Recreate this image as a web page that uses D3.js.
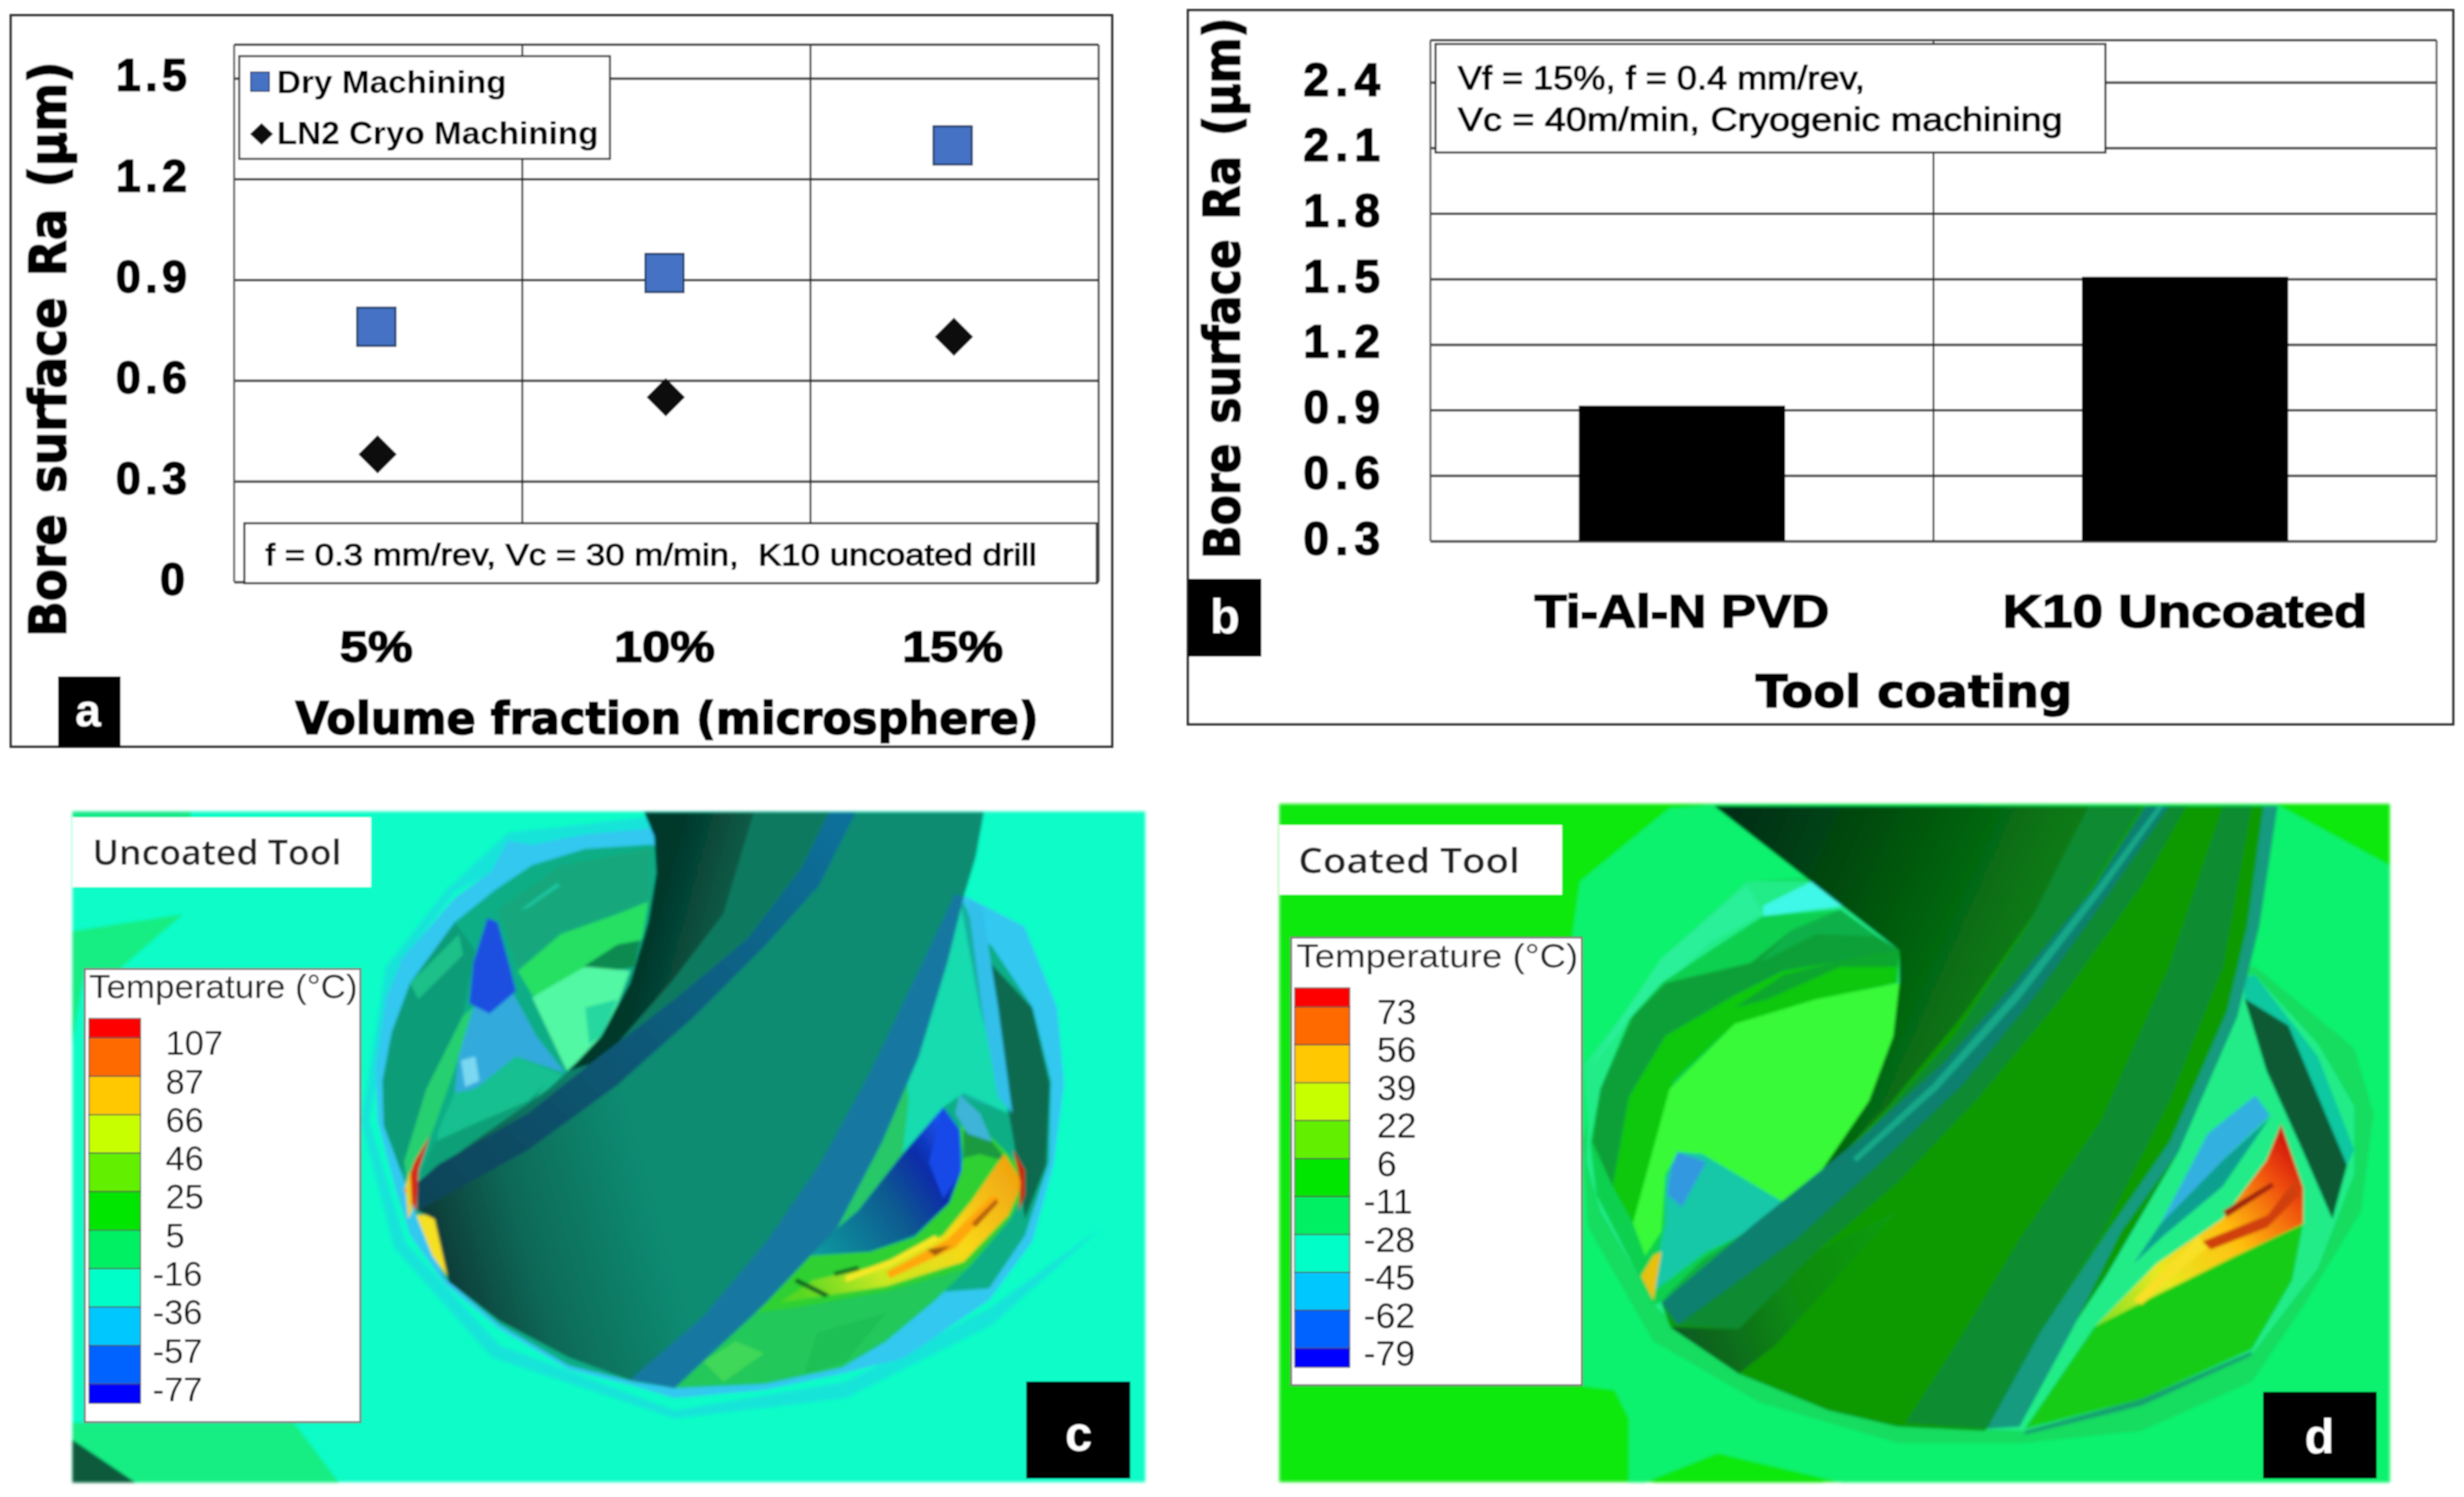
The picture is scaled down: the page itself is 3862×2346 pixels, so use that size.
<!DOCTYPE html>
<html><head><meta charset="utf-8">
<script src="https://cdnjs.cloudflare.com/ajax/libs/d3/7.8.5/d3.min.js"></script>
<style>html,body{margin:0;padding:0;background:#fff}svg{display:block}</style></head>
<body><svg id="c" width="3862" height="2346" xmlns="http://www.w3.org/2000/svg"></svg>
<script>
// ---- chart data
const fractions = ["5%","10%","15%"];
const dryRa = [0.76,0.92,1.30];
const cryoRa = [0.38,0.55,0.73];
const ticksA = [0,0.3,0.6,0.9,1.2,1.5];
const coatings = ["Ti-Al-N PVD","K10 Uncoated"];
const coatingRa = [0.92,1.51];
const ticksB = [0.3,0.6,0.9,1.2,1.5,1.8,2.1,2.4];
const tempColors = ["#ff0000","#ff6a00","#ffc800","#c8ff00","#64f000","#00e600","#00f064","#00ffc8","#00c8ff","#0064ff","#0000ff"];
const tempUncoated = [107,87,66,46,25,5,-16,-36,-57,-77];
const tempCoated = [73,56,39,22,6,-11,-28,-45,-62,-79];

const ARIAL="'Liberation Sans',Arial,sans-serif", VERD="'DejaVu Sans',Verdana,sans-serif", OPEN="'Open Sans',sans-serif";
const svg=d3.select("#c");
const defs=svg.append("defs");
const blur=(id,s)=>defs.append("filter").attr("id",id).attr("x","-2%").attr("y","-2%").attr("width","104%").attr("height","104%")
  .append("feGaussianBlur").attr("stdDeviation",s);
blur("soft",1.1); blur("softer",2.2);
function grad(id,x1,y1,x2,y2,stops){
  const g=defs.append("linearGradient").attr("id",id).attr("gradientUnits","userSpaceOnUse")
   .attr("x1",x1).attr("y1",y1).attr("x2",x2).attr("y2",y2);
  stops.forEach(([o,c])=>g.append("stop").attr("offset",o).attr("stop-color",c));
}
function T(g,str,x,y,o={}){
  const t=g.append("text").text(str).attr("x",x).attr("y",y)
    .attr("font-family",o.family||ARIAL).attr("font-size",o.size||40).attr("font-weight",o.weight||400)
    .attr("fill",o.fill||"#000").attr("text-anchor",o.anchor||"start");
  if(o.ws) t.attr("word-spacing",o.ws);
  if(o.width) t.attr("textLength",o.width).attr("lengthAdjust","spacingAndGlyphs");
  if(o.stroke) t.attr("stroke",o.fill||"#000").attr("stroke-width",o.stroke);
  if(o.fit){ // rotated title stretched to a given length
    const k=o.fit/t.node().getComputedTextLength();
    t.attr("transform",`translate(${x},${y}) rotate(-90) scale(${k},1) translate(${-x},${-y})`);
  }
  return t;
}
function box(g,x0,y0,x1,y1,o={}){
  return g.append("rect").attr("x",x0).attr("y",y0).attr("width",x1-x0).attr("height",y1-y0)
   .attr("fill",o.fill||"#fff").attr("stroke",o.stroke||"none").attr("stroke-width",o.sw||0);
}
function styleAxis(ax,o){
  ax.select(".domain").remove();
  ax.selectAll("line").attr("stroke",o.line||"#444").attr("stroke-width",o.lw||4);
  ax.selectAll("text").attr("font-family",ARIAL).attr("font-weight",700).attr("font-size",o.size).attr("fill","#000")
    .attr("stroke","#000").attr("stroke-width",o.stroke||2.5);
}

// ============= panel a
{
 const g=svg.append("g").attr("filter","url(#soft)");
 box(g,17,24,1743,1170,{stroke:"#333",sw:4});
 const L=367,R=1722,Tp=70,B=912;
 const y=d3.scaleLinear().domain([0,1.6]).range([B,Tp]);
 const x=d3.scaleBand().domain(fractions).range([L,R]);
 const ay=g.append("g").attr("transform",`translate(${L},0)`)
   .call(d3.axisLeft(y).tickValues(ticksA).tickFormat(d=>d===0?"0":d3.format(".1f")(d)).tickSize(-(R-L)).tickPadding(67));
 styleAxis(ay,{size:70});
 ay.selectAll("text").attr("letter-spacing",7).attr("dy",19);
 ay.selectAll("text").filter(d=>d===0).attr("letter-spacing",0).attr("dx",-10);
 g.append("g").selectAll("line").data(fractions).join("line")
  .attr("x1",d=>x(d)+x.bandwidth()).attr("x2",d=>x(d)+x.bandwidth()).attr("y1",Tp).attr("y2",B).attr("stroke","#333").attr("stroke-width",3);
 g.append("line").attr("x1",L).attr("x2",L).attr("y1",Tp).attr("y2",B).attr("stroke","#555").attr("stroke-width",3);
 g.append("line").attr("x1",L).attr("x2",R).attr("y1",Tp).attr("y2",Tp).attr("stroke","#444").attr("stroke-width",4);
 const ax=g.append("g").attr("transform",`translate(0,${B})`).call(d3.axisBottom(x).tickSize(0).tickPadding(0));
 styleAxis(ax,{size:68});
 ax.selectAll("text").attr("y",125).attr("dy",0).attr("dx",-3).attr("textLength",function(){return this.getComputedTextLength()*1.16;}).attr("lengthAdjust","spacingAndGlyphs");
 const mx=d=>x(d)+x.bandwidth()/2-3;
 g.append("g").selectAll("rect").data(fractions).join("rect")
  .attr("x",d=>mx(d)-30).attr("y",(d,i)=>y(dryRa[i])-30).attr("width",60).attr("height",60)
  .attr("fill","#4472c4").attr("stroke","#1f3864").attr("stroke-width",3);
 const dia=(cx,cy,w,h)=>`M${cx},${cy-h}L${cx+w},${cy}L${cx},${cy+h}L${cx-w},${cy}Z`;
 g.append("g").selectAll("path").data(fractions).join("path")
  .attr("d",(d,i)=>dia(mx(d)+2,y(cryoRa[i]),30,30)).attr("fill","#0a0a0a");
 box(g,375,88,956,249,{stroke:"#333",sw:3});
 box(g,393,113,422,143,{fill:"#4472c4",stroke:"#1f3864",sw:2});
 g.append("path").attr("d",dia(410,210,18,17)).attr("fill","#0a0a0a");
 T(g,"Dry Machining",434,146,{size:50,weight:700,width:360});
 T(g,"LN2 Cryo Machining",434,226,{size:50,weight:700,width:504});
 box(g,383,820,1719,914,{stroke:"#222",sw:3});
 T(g,"f = 0.3 mm/rev, Vc = 30 m/min,  K10 uncoated drill",416,886,{size:49,width:1209,stroke:1.6}).style("white-space","pre");
 T(g,"Bore surface Ra (µm)",103,998,{family:VERD,weight:700,size:80,ws:8,fit:902,stroke:2.5});
 T(g,"Volume fraction (microsphere)",463,1150,{family:VERD,weight:700,size:70,width:1165,stroke:2.5});
 box(g,91,1060,189,1171,{fill:"#000"});
 T(g,"a",138,1138,{size:72,weight:700,fill:"#fff",anchor:"middle"});
}
// ============= panel b
{
 const g=svg.append("g").attr("filter","url(#soft)");
 box(g,1862,16,3845,1135,{stroke:"#333",sw:4});
 const L=2242,R=3819,Tp=63,B=848;
 const y=d3.scaleLinear().domain([0.3,2.593]).range([B,Tp]);
 const x=d3.scaleBand().domain(coatings).range([L,R]).paddingInner(0.59).paddingOuter(0.295);
 const ay=g.append("g").attr("transform",`translate(${L},0)`)
   .call(d3.axisLeft(y).tickValues(ticksB).tickFormat(d3.format(".1f")).tickSize(-(R-L)).tickPadding(69));
 styleAxis(ay,{size:72});
 ay.selectAll("text").attr("letter-spacing",10).attr("dy",20);
 g.append("line").attr("x1",(L+R)/2).attr("x2",(L+R)/2).attr("y1",Tp).attr("y2",B).attr("stroke","#333").attr("stroke-width",3);
 g.selectAll("line.edge").data([L,R]).join("line").attr("class","edge").attr("x1",d=>d).attr("x2",d=>d).attr("y1",Tp).attr("y2",B).attr("stroke","#555").attr("stroke-width",3);
 g.append("line").attr("x1",L).attr("x2",R).attr("y1",Tp).attr("y2",Tp).attr("stroke","#444").attr("stroke-width",4);
 g.append("g").selectAll("rect").data(coatings).join("rect")
  .attr("x",d=>x(d)).attr("width",x.bandwidth()).attr("y",(d,i)=>y(coatingRa[i])).attr("height",(d,i)=>B-y(coatingRa[i])).attr("fill","#000");
 const ax=g.append("g").attr("transform",`translate(0,${B})`).call(d3.axisBottom(x).tickSize(0).tickPadding(0));
 styleAxis(ax,{size:72});
 ax.selectAll("text").attr("y",135).attr("dy",0).attr("textLength",(d,i)=>[462,572][i]).attr("lengthAdjust","spacingAndGlyphs");
 box(g,2250,69,3300,239,{stroke:"#222",sw:3});
 T(g,"Vf = 15%, f = 0.4 mm/rev,",2285,140,{size:52,width:638,stroke:1.6});
 T(g,"Vc = 40m/min, Cryogenic machining",2285,205,{size:52,width:948,stroke:1.6});
 T(g,"Bore surface Ra (µm)",1943,876,{family:VERD,weight:700,size:78,ws:8,fit:849,stroke:2.5});
 T(g,"Tool coating",2752,1108,{family:VERD,weight:700,size:70,width:496,stroke:2.5});
 box(g,1862,907,1977,1029,{fill:"#000"});
 T(g,"b",1920,992,{size:76,weight:700,fill:"#fff",anchor:"middle"});
}

// ---- illustration geometry (local units of each picture; not chart data)
grad("cDrill",200,1100,900,900,[[0,"#073c38"],[0.3,"#0a6a58"],[0.75,"#0b8c72"],[1,"#0b8c72"]]);
grad("cDrillTop",730,300,1100,400,[[0,"#06382c"],[0.5,"#08624c"],[1,"#0a7a60"]]);
grad("cBand",1180,20,150,960,[[0,"#10709a"],[1,"#0c4458"]]);
grad("cHot",1100,1220,1620,880,[[0,"#58d820"],[0.3,"#c8e820"],[0.65,"#f8d818"],[1,"#f0a010"]]);
grad("cFin",1100,1110,1480,860,[[0,"#10a0a0"],[0.55,"#0c5a90"],[0.8,"#0c2ca8"],[1,"#1850e8"]]);
grad("dTop",500,50,1400,450,[[0,"#042f18"],[0.35,"#04500e"],[0.75,"#087814"],[1,"#0a8a18"]]);
grad("dHot",1390,1280,1890,850,[[0,"#80e020"],[0.3,"#e8e820"],[0.6,"#ffc010"],[0.85,"#f05010"],[1,"#d01010"]]);
grad("dLow",360,1300,900,1100,[[0,"#075a22"],[0.5,"#088a12"],[1,"#099a08"]]);

const shapesC=[
 ["#14e882",[[-700,19],[-410,19],[-410,33],[-700,33]]],
 ["#14ee84",[[-700,312],[-427,270],[-585,406],[-670,406],[-700,588]]],
 ["#14ee84",[[-700,1520],[-155,1520],[-45,1667],[-700,1667]]],
 ["#0c5a3c",[[-700,1562],[-545,1667],[-700,1667]]],
 ["#18e4d8",[[370,70],[730,30],[730,80],[430,120],[240,215],[100,400],[30,780],[120,1080],[350,1330],[780,1490],[1200,1420],[1553,1240],[1830,1040],[1560,1280],[1200,1460],[780,1510],[330,1360],[90,1090],[10,780],[70,400],[220,210]]],
 ["#30c8f0",[[720,60],[560,75],[430,100],[370,90],[330,165],[240,230],[110,380],[70,480],[45,650],[50,780],[95,950],[130,1060],[215,1180],[350,1290],[520,1390],[680,1430],[780,1460],[1000,1440],[1190,1400],[1342,1362],[1553,1219],[1659,1075],[1711,887],[1737,688],[1720,500],[1640,301],[1500,229],[1100,100]]],
 ["#10ae86",[[720,100],[560,110],[430,150],[340,210],[240,290],[130,440],[85,560],[62,680],[65,790],[110,910],[145,1010],[215,1165],[350,1280],[520,1380],[680,1420],[780,1435],[1000,1425],[1190,1385],[1300,1320],[1420,1200],[1553,1190],[1641,1060],[1700,880],[1705,680],[1660,500],[1560,350],[1500,300],[1000,150]]],
 ["#0f9c78",[[240,290],[130,440],[85,560],[62,680],[65,790],[110,910],[170,700],[260,520],[290,360]]],
 ["#1cc088",[[130,440],[250,320],[260,370],[150,480]]],
 ["#14a87c",[[345,260],[500,150],[720,110],[720,250],[500,320],[395,410]]],
 ["#1ec4a0",[[400,260],[490,195],[500,200],[420,255]]],
 ["#28e064",[[395,410],[500,320],[640,270],[715,240],[700,330],[640,380],[560,400],[470,470],[430,470]]],
 ["#0c8a50",[[555,400],[640,345],[695,335],[680,400],[600,415]]],
 ["#52f8a4",[[430,475],[560,400],[670,410],[640,490],[590,590],[515,655]]],
 ["#28d8a0",[[560,500],[640,480],[600,570],[570,590]]],
 ["#30aadc",[[285,500],[380,460],[440,570],[510,660],[390,620],[290,700],[240,710],[250,610]]],
 ["#7ad8f0",[[255,630],[290,620],[300,680],[265,695]]],
 ["#1c50e0",[[320,280],[345,290],[375,400],[390,460],[325,515],[275,490],[285,390]]],
 ["#18c090",[[240,710],[290,700],[390,620],[505,665],[400,780],[300,830],[190,870],[200,800]]],
 ["#14a878",[[190,870],[300,800],[420,750],[300,840]]],
 ["#28d070",[[115,880],[170,700],[260,520],[285,500],[240,650],[190,790],[130,940]]],
 ["#12b0a0",[[1490,240],[1600,500],[1610,760],[1480,720],[1345,670]]],
 ["#12dcb0",[[1480,230],[1530,500],[1600,760],[1490,710],[1440,745],[1340,860],[1240,990],[1100,1110],[1040,1160],[1180,1040],[1290,830],[1380,620],[1450,390]]],
 ["#26c868",[[1350,670],[1355,730],[1340,860],[1230,1000],[1100,1110],[1030,1170],[1180,1040],[1290,830]]],
 ["#22c85a",[[780,1435],[1000,1230],[1095,1235],[1306,1197],[1500,1141],[1420,1220],[1300,1320],[1190,1385],[1000,1425]]],
 ["#40d858",[[850,1370],[930,1320],[1000,1350],[900,1420]]],
 ["#1cc054",[[1130,1300],[1300,1250],[1200,1370],[1100,1400]]],
 ["#0f6b50",[[1544,378],[1658,500],[1702,688],[1693,887],[1641,1020],[1614,832],[1588,688],[1553,500]]],
 ["#30c0ea",[[1500,234],[1535,250],[1575,500],[1610,760],[1575,720],[1535,500]]],
 ["#2ed030",[[980,1250],[1045,1160],[1100,1110],[1260,1100],[1370,1065],[1455,980],[1490,870],[1480,790],[1560,820],[1620,880],[1640,950],[1605,1020],[1500,1141],[1306,1197],[1095,1235]]],
 ["#1c9a40",[[1490,800],[1560,830],[1600,880],[1530,860],[1490,870]]],
 ["url(#cHot)",[[1040,1225],[1120,1170],[1300,1130],[1440,1060],[1510,975],[1590,860],[1635,930],[1600,1010],[1490,1125],[1300,1185]]],
 ["#ffa810",[[1300,1150],[1450,1070],[1560,960],[1580,970],[1470,1090],[1310,1165]]],
 ["#f8e828",[[1200,1160],[1310,1120],[1420,1060],[1430,1070],[1310,1135],[1200,1175]]],
 ["#d02010",[[1612,850],[1640,900],[1640,960],[1625,1000],[1630,930]]],
 ["#0a6020",[[1080,1165],[1160,1205],[1150,1212],[1075,1175]]],
 ["#0a7020",[[1170,1150],[1230,1135],[1235,1145],[1175,1160]]],
 ["#a05a10",[[1400,1095],[1460,1085],[1420,1110]]],
 ["#b86010",[[1510,1030],[1570,970],[1575,980],[1520,1040]]],
 ["url(#cFin)",[[1440,745],[1480,800],[1485,900],[1455,980],[1370,1060],[1260,1100],[1100,1110],[1230,1000],[1340,860]]],
 ["#1848e8",[[1440,745],[1480,800],[1485,900],[1440,970],[1405,880]]],
 ["#3cb4d8",[[1480,715],[1530,760],[1560,830],[1500,810],[1470,760]]],
 ["#10a078",[[150,920],[190,830],[300,780],[420,730],[460,690],[390,790],[210,880]]],
 ["#d82818",[[115,950],[140,880],[178,815],[150,900],[145,1000]]],
 ["#e8d020",[[118,940],[130,900],[135,1000],[125,1020]]],
 ["#f5e020",[[145,1010],[190,1010],[225,1165],[185,1110]]],
 ["url(#cDrill)",[[705,20],[1540,20],[1520,130],[1490,230],[1450,390],[1380,620],[1290,830],[1180,1040],[1000,1230],[780,1435],[670,1415],[520,1360],[350,1270],[225,1175],[190,1020],[150,1000],[148,930],[300,820],[470,700],[520,655],[600,570],[670,440],[715,290],[735,170],[730,80]]],
 ["url(#cDrillTop)",[[705,20],[1160,20],[1090,160],[960,330],[780,480],[570,640],[520,655],[600,570],[670,440],[715,290],[735,170],[730,80]]],
 ["#0a7a60",[[975,20],[1160,20],[1090,160],[960,330],[780,480],[620,610],[770,440],[900,270]]],
 ["url(#cBand)",[[1160,20],[1225,20],[1135,200],[1000,350],[830,520],[640,690],[420,850],[148,1000],[148,930],[200,885],[420,760],[570,640],[780,480],[960,330],[1090,160]]],
 ["#1378a0",[[1490,230],[1450,390],[1380,620],[1290,830],[1180,1040],[1000,1230],[780,1435],[670,1415],[850,1260],[1010,1070],[1140,880],[1260,660],[1370,430],[1470,220]]]
];
const shapesD=[
 ["#0cf26e",[[100,330],[120,190],[340,10],[450,2],[1834,2],[2110,151],[2110,1667],[764,1667],[458,1595],[278,1667],[240,1667],[240,1510],[205,1440],[125,1430]]],
 ["#08e808",[[300,1667],[458,1595],[720,1667]]],
 ["#12dc60",[[2023,600],[2070,760],[2040,1000],[1900,1230],[1771,1420],[1500,1540],[1213,1570],[900,1570],[560,1470],[300,1320],[140,1040],[125,830],[200,560],[320,380],[530,190],[690,180],[1000,400],[1780,400]]],
 ["#22ec88",[[770,250],[690,190],[530,190],[320,380],[230,510],[130,640],[140,780],[135,880],[170,1000],[310,1240],[510,1400],[730,1490],[900,1530],[1213,1540],[1501,1462],[1771,1352],[1933,1141],[2023,909],[2023,743],[1933,588],[1780,422]]],
 ["#40f8e8",[[570,250],[690,190],[770,250],[570,275]]],
 ["#2cf09a",[[320,380],[530,200],[570,270],[440,340],[250,520],[140,650]]],
 ["#10d050",[[760,260],[570,275],[440,360],[320,440],[240,530],[170,700],[145,830],[160,960],[300,1230],[700,1100],[905,500]]],
 ["#0aa038",[[850,325],[905,360],[800,380],[620,410],[500,470],[330,570],[240,720],[200,940],[150,830],[170,700],[250,520],[330,440],[540,390],[640,310],[760,260]]],
 ["#10b048",[[560,390],[640,310],[760,260],[850,325],[700,320]]],
 ["#08c808",[[905,360],[900,440],[700,480],[500,540],[350,680],[250,1030],[200,940],[240,720],[330,570],[500,470],[620,410],[800,380]]],
 ["#0ca62e",[[905,360],[900,400],[760,400],[580,480],[500,500],[620,420],[800,375]]],
 ["#38fa38",[[905,440],[890,570],[830,730],[680,950],[630,985],[420,860],[360,860],[330,910],[320,1050],[280,1110],[250,1030],[340,700],[500,540],[700,480]]],
 ["#18c8a8",[[360,855],[420,860],[630,985],[560,1040],[430,1100],[310,1190],[290,1210],[330,1030],[330,920]]],
 ["#3098e0",[[360,855],[430,880],[370,990],[335,960],[345,890]]],
 ["#10b040",[[320,1220],[420,1120],[560,1030],[650,970],[600,1030]]],
 ["#e8c010",[[270,1160],[300,1110],[320,1100],[300,1220]]],
 ["#12cc14",[[1213,1535],[1384,1285],[1555,1197],[1735,1108],[1897,1031],[1870,1170],[1771,1340],[1501,1462]]],
 ["#14a070",[[1213,1540],[1501,1462],[1771,1345],[1770,1355],[1501,1478],[1213,1550]]],
 ["#0a5a36",[[1753,478],[1861,544],[2005,887],[1969,1020],[1897,854],[1807,655]]],
 ["#10c8a0",[[1753,422],[1780,422],[1933,620],[2023,850],[2005,887],[1861,544],[1753,478]]],
 ["url(#dHot)",[[1384,1285],[1537,1130],[1699,1020],[1807,876],[1843,787],[1897,942],[1897,1031],[1735,1108],[1555,1197]]],
 ["#d04010",[[1650,1075],[1810,1010],[1880,920],[1888,960],[1810,1040],[1670,1095]]],
 ["#f8e028",[[1480,1220],[1640,1060],[1660,1090],[1500,1230]]],
 ["#a02010",[[1700,1000],[1820,930],[1825,940],[1710,1015]]],
 ["#30b0e0",[[1780,716],[1816,765],[1699,876],[1555,1042],[1547,1031],[1663,810]]],
 ["#10a090",[[1699,876],[1816,770],[1699,940],[1555,1060],[1480,1130],[1547,1031]]],
 ["#089a06",[[450,5],[1834,5],[1789,301],[1735,522],[1591,854],[1411,1163],[1249,1407],[1114,1540],[900,1530],[730,1490],[510,1400],[340,1280],[320,1225],[680,950],[830,730],[890,570],[905,440],[905,360]]],
 ["url(#dTop)",[[450,5],[1400,5],[1250,250],[1060,520],[880,740],[680,950],[830,730],[890,570],[905,440],[905,360]]],
 ["#0a8a30",[[1370,5],[1500,5],[1320,290],[1140,520],[960,710],[760,880],[860,770],[1040,570],[1220,300]]],
 ["#0f8070",[[1510,5],[1568,5],[1420,220],[1240,470],[1060,690],[860,880],[650,1070],[360,1280],[320,1225],[550,1030],[800,830],[1010,640],[1180,450],[1380,210]]],
 ["#12a888",[[1540,5],[1555,5],[1400,220],[1200,480],[1000,700],[800,880],[790,870],[985,690],[1190,460],[1390,205]]],
 ["#0a8a30",[[360,1280],[650,1070],[860,880],[1060,690],[1240,470],[1420,220],[1568,5],[1610,5],[1500,200],[1300,480],[1100,720],[900,930],[700,1100],[510,1290]]],
 ["url(#dLow)",[[340,1285],[510,1290],[700,1100],[900,1000],[600,1330],[510,1400]]],
 ["#0a8c30",[[920,1520],[1120,1535],[1250,1300],[1400,1060],[1568,730],[1700,400],[1770,5],[1700,5],[1568,400],[1400,780],[1200,1070],[1050,1320]]],
 ["#129a80",[[1120,1535],[1200,1530],[1330,1290],[1450,1050],[1591,854],[1735,522],[1789,301],[1834,5],[1800,5],[1760,300],[1710,510],[1570,830],[1410,1060],[1250,1300]]]
];
function drawShapes(g,shapes){
  g.append("g").selectAll("polygon").data(shapes).join("polygon")
   .attr("points",d=>d[1].map(p=>p.join(",")).join(" ")).attr("fill",d=>d[0]);
}
function colorbar(g,vals,sx,sy,o){
  const pos=d3.scaleLinear().domain([0,10]).range([o.y0,o.y1]);
  const edges=[0,0.5,1.5,2.5,3.5,4.5,5.5,6.5,7.5,8.5,9.5,10];
  g.append("g").selectAll("rect").data(tempColors).join("rect")
   .attr("x",sx(o.x0)).attr("width",sx(o.x1)-sx(o.x0))
   .attr("y",(d,i)=>sy(pos(edges[i]))).attr("height",(d,i)=>sy(pos(edges[i+1]))-sy(pos(edges[i])))
   .attr("fill",d=>d).attr("stroke","#444").attr("stroke-width",1.5);
  g.append("g").selectAll("text").data(vals).join("text")
   .text(d=>d).attr("x",d=>sx(d<0?o.tx-18:o.tx)).attr("y",(d,i)=>sy(pos(i+0.5))+o.dy)
   .attr("font-family",ARIAL).attr("font-size",o.size).attr("fill","#111");
}
// ============= panel c
{
 const sx=v=>80+v/0.891, sy=v=>1240+v/1.418;
 const g=svg.append("g").attr("filter","url(#soft)");
 const img=g.append("g").attr("filter","url(#softer)");
 box(img,sx(30),sy(45),sx(1528),sy(1535),{fill:"#0dfcc8"});
 drawShapes(img.append("g").attr("transform",`translate(560,1260) scale(${1/1.568})`),shapesC);
 box(g,sx(30),sy(58),sx(447),sy(213));
 T(g,"Uncoated Tool",sx(58),sy(163),{family:OPEN,weight:600,size:54,width:390,fill:"#222"});
 box(g,sx(47),sy(395),sx(432),sy(1402),{stroke:"#777",sw:3});
 T(g,"Temperature (°C)",sx(53),sy(460),{size:52,width:421,fill:"#222"});
 colorbar(g,tempUncoated,sx,sy,{x0:53,x1:125,y0:505,y1:1360,tx:160,dy:27,size:54});
 box(g,sx(1362),sy(1312),sx(1507),sy(1527),{fill:"#000"});
 T(g,"c",sx(1435),sy(1465),{size:76,weight:700,fill:"#fff",anchor:"middle"});
}
// ============= panel d
{
 const sx=v=>1980+v/0.871, sy=v=>1240+v/1.418;
 const g=svg.append("g").attr("filter","url(#soft)");
 const img=g.append("g").attr("filter","url(#softer)");
 box(img,sx(22),sy(28),sx(1538),sy(1535),{fill:"#08e808"});
 drawShapes(img.append("g").attr("transform",`translate(2400,1260) scale(${1/1.568})`),shapesD);
 box(g,sx(22),sy(75),sx(408),sy(230));
 T(g,"Coated Tool",sx(48),sy(182),{family:OPEN,weight:600,size:54,width:347,fill:"#222"});
 box(g,sx(38),sy(325),sx(435),sy(1320),{stroke:"#777",sw:3});
 T(g,"Temperature (°C)",sx(45),sy(392),{size:52,width:442,fill:"#222"});
 colorbar(g,tempCoated,sx,sy,{x0:43,x1:118,y0:437,y1:1280,tx:155,dy:27,size:56});
 box(g,sx(1365),sy(1335),sx(1520),sy(1527),{fill:"#000"});
 T(g,"d",sx(1442),sy(1470),{size:76,weight:700,fill:"#fff",anchor:"middle"});
}
</script></body></html>
